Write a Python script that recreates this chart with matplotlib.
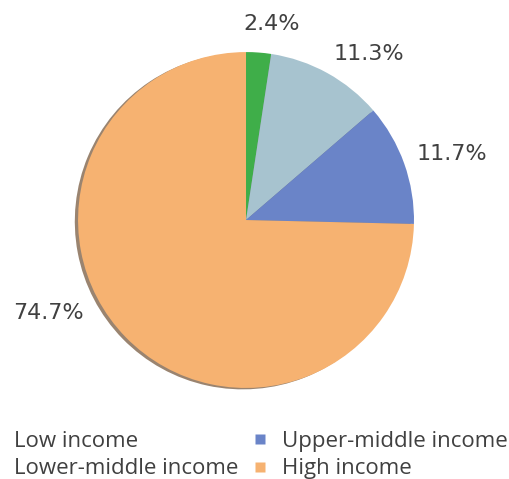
import matplotlib.pyplot as plt
from matplotlib.lines import Line2D

categories = ['Low income', 'Lower-middle income', 'Upper-middle income', 'High income']
shares = [2.4, 11.3, 11.7, 74.7]
colors = ['#3fae49', '#a7c3cf', '#6a84c8', '#f6b271']
label_pos = [(0.155, 1.17), (0.73, 0.99), (1.226, 0.393), (-1.179, -0.553)]

plt.rcParams['font.family'] = ['Open Sans', 'DejaVu Sans']

fig = plt.figure(figsize=(5.09, 4.79), dpi=100)
ax = fig.add_axes([0, 0, 1, 1])

wedges, texts = ax.pie(
    shares,
    colors=colors,
    startangle=90,
    counterclock=False,
    labels=[f'{s:.1f}%' for s in shares],
    textprops=dict(fontsize=16, color='#404040', family='DejaVu Sans'),
    wedgeprops=dict(linewidth=0),
    shadow=dict(ox=-0.014, oy=-0.006, shade=0.55, alpha=0.7),
)
for t, (x, y) in zip(texts, label_pos):
    t.set_position((x, y))
    t.set_ha('center')
    t.set_va('center')

ax.set_xlim(-1.464, 1.565)
ax.set_ylim(-1.542, 1.31)
ax.set_aspect('equal', adjustable='box')
ax.axis('off')

handles = [Line2D([], [], marker='s', linestyle='none', markersize=7,
                  markerfacecolor=c, markeredgecolor='none') for c in colors]
fig.legend(handles, categories, loc='upper left', bbox_to_anchor=(-0.033, 0.1),
           ncol=2, frameon=False, fontsize=16, handlelength=0.8, handletextpad=0.6,
           columnspacing=0.55, labelspacing=0.28, borderpad=0, borderaxespad=0,
           labelcolor='#404040')

fig.savefig('out.png', dpi=100)
